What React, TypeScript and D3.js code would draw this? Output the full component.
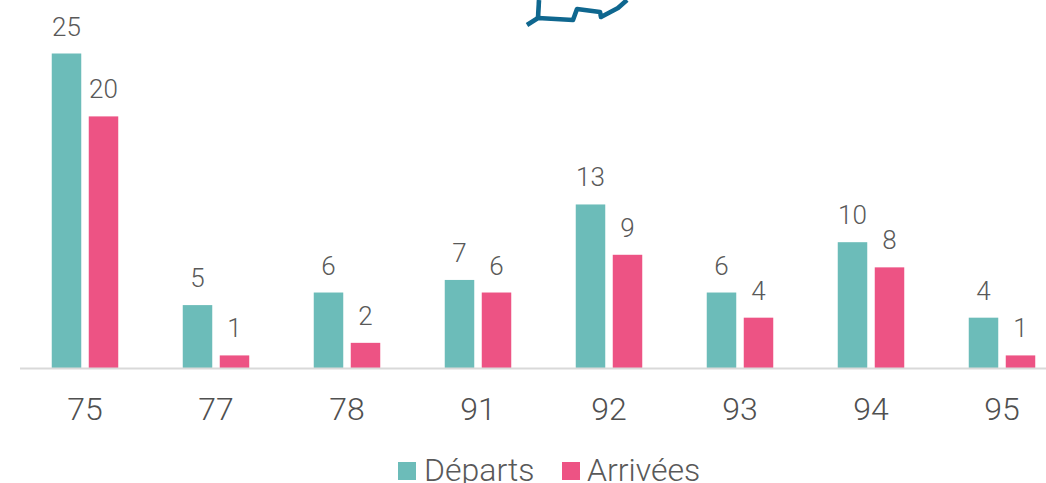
import * as d3 from 'd3';

const departments = ['75', '77', '78', '91', '92', '93', '94', '95'];
const departs = [25, 5, 6, 7, 13, 6, 10, 4];
const arrivees = [20, 1, 2, 6, 9, 4, 8, 1];
const seriesNames = ['Départs', 'Arrivées'];

const width = 1046;
const height = 483;
const baseline = 368;
const fontFamily = 'Roboto, sans-serif';
const colors = ['#6cbcb9', '#ed5384'];
const textColor = '#595959';

// Fragment of the map decoration, cut off by the top of the picture
const mapLine: [number, number][] = [
  [527, 25], [538, 18], [573, 20], [577, 9], [600, 12], [601, 17], [618, 8], [627, 0],
];
const mapBranch: [number, number][] = [[538, 18], [539, 0]];

export default function App() {
  // the last band runs past the right edge of the picture
  const x = d3.scaleBand<string>().domain(departments).range([19.5, 1067.5]);
  const y = d3.scaleLinear().domain([0, 25]).range([baseline, 53.5]);
  const barWidth = 29.5;
  const gap = 7.5;
  const line = d3.line();

  const barX = (dep: string, s: number) => {
    const center = (x(dep) || 0) + x.bandwidth() / 2;
    return s === 0 ? center - gap / 2 - barWidth : center + gap / 2;
  };

  return (
    <svg
      width={width}
      height={height}
      style={{ position: 'absolute', left: 0, top: 0, background: '#fff' }}
      fontFamily={fontFamily}
      fontWeight={300}
    >
      <g fill="none" stroke="#0f678f" strokeWidth={4.6} strokeLinejoin="round">
        <path d={line(mapLine) || ''} />
        <path d={line(mapBranch) || ''} />
      </g>

      {[departs, arrivees].map((values, s) => (
        <g key={seriesNames[s]}>
          {values.map((v, i) => {
            const bx = barX(departments[i], s);
            return (
              <g key={departments[i]}>
                <rect x={bx} y={y(v)} width={barWidth} height={baseline - y(v)} fill={colors[s]} />
                <text
                  x={bx + barWidth / 2}
                  y={y(v) - 18}
                  textAnchor="middle"
                  fontSize={26}
                  fill={textColor}
                >
                  {v}
                </text>
              </g>
            );
          })}
        </g>
      ))}

      <line x1={20} x2={width} y1={baseline + 0.5} y2={baseline + 0.5} stroke="#d9d9d9" strokeWidth={2} />

      {departments.map((d) => (
        <text
          key={d}
          x={(x(d) || 0) + x.bandwidth() / 2}
          y={419.5}
          textAnchor="middle"
          fontSize={32}
          fill="#505050"
        >
          {d}
        </text>
      ))}

      <g fontSize={32} fill={textColor}>
        <rect x={398} y={462} width={18} height={18} fill={colors[0]} />
        <text x={424} y={481}>{seriesNames[0]}</text>
        <rect x={562} y={462} width={18} height={18} fill={colors[1]} />
        <text x={587} y={481}>{seriesNames[1]}</text>
      </g>
    </svg>
  );
}
